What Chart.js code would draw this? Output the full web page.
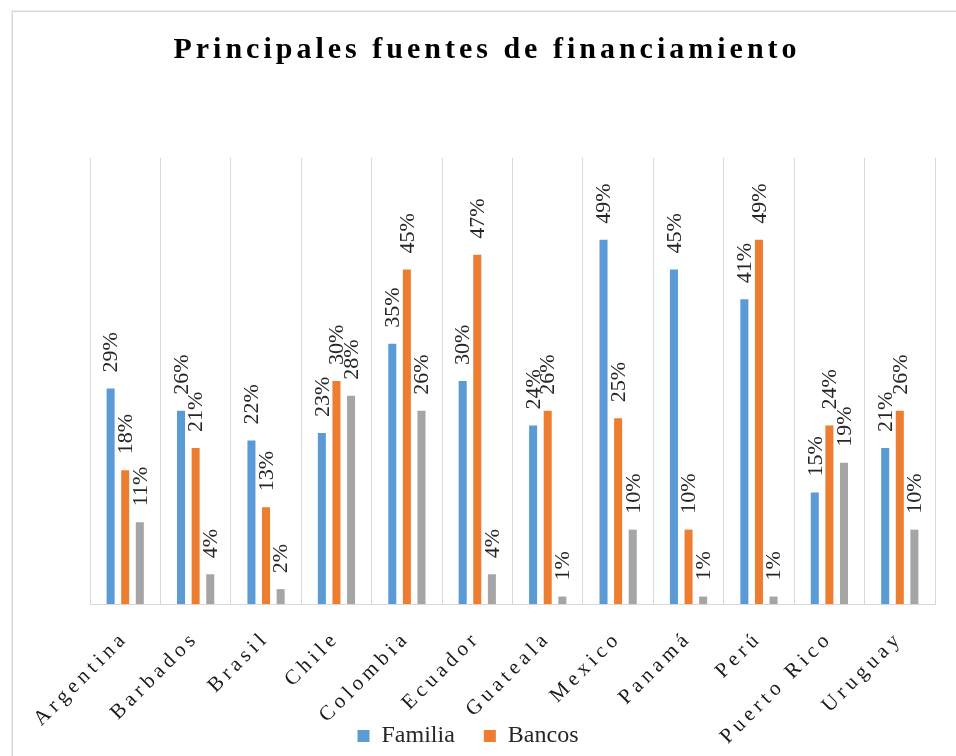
<!DOCTYPE html>
<html>
<head>
<meta charset="utf-8">
<script src="https://cdn.jsdelivr.net/npm/chart.js@4.4.0/dist/chart.umd.min.js"></script>
<style>
html,body{margin:0;padding:0;background:#fff;overflow:hidden}
#wrap{position:relative;width:956px;height:756px}
</style>
</head>
<body>
<div id="wrap"><canvas id="c" width="956" height="756"></canvas></div>
<script>
// ---- Data ----
const titleText = 'Principales fuentes de financiamiento';
const categories = ['Argentina','Barbados','Brasil','Chile','Colombia','Ecuador','Guateala','Mexico','Panamá','Perú','Puerto Rico','Uruguay'];
const seriesNames = ['Familia','Bancos','Otros'];
const familia = [29,26,22,23,35,30,24,49,45,41,15,21];
const bancos  = [18,21,13,30,45,47,26,25,10,49,24,26];
const otros   = [11, 4, 2,28,26, 4, 1,10, 1, 1,19,10];
const yMin = 0, yMax = 60;

const SERIF = '"Liberation Serif", "Times New Roman", serif';

// white background + light frame
const frame = {
  id: 'frame',
  beforeDraw(chart) {
    const ctx = chart.ctx;
    ctx.save();
    ctx.fillStyle = '#fff';
    ctx.fillRect(0, 0, chart.width, chart.height);
    ctx.strokeStyle = '#D9D9D9';
    ctx.lineWidth = 1.5;
    ctx.strokeRect(12.25, 11.25, 1000, 1000);
    ctx.restore();
  }
};

// letter spacing for title and category labels; no clipping of rotated labels
const spacing = {
  id: 'spacing',
  beforeLayout(chart) {
    const ctx = chart.ctx;
    const wrap = (obj, name, sp, dx) => {
      if (!obj || obj['__w_' + name]) return;
      const orig = obj[name];
      obj[name] = function (...args) {
        const prev = ctx.letterSpacing;
        ctx.save();
        if (dx) ctx.translate(dx, 0);
        ctx.letterSpacing = sp;
        try { return orig.apply(this, args); }
        finally { ctx.restore(); ctx.letterSpacing = prev || '0px'; }
      };
      obj['__w_' + name] = true;
    };
    wrap(chart.titleBlock, 'draw', '4px', 19);
    const x = chart.scales.x;
    wrap(x, 'update', '4.5px', 0);
    wrap(x, 'drawLabels', '4.5px', 0);
    x._computeLabelArea = function () {
      return { top: 0, left: 0, bottom: chart.height, right: chart.width };
    };
  }
};

// rotated value labels above each bar
const valueLabels = {
  id: 'valueLabels',
  afterDatasetsDraw(chart) {
    const ctx = chart.ctx;
    ctx.save();
    ctx.font = '22px ' + SERIF;
    ctx.fillStyle = '#262626';
    ctx.textAlign = 'left';
    ctx.textBaseline = 'middle';
    chart.data.datasets.forEach((ds, i) => {
      const meta = chart.getDatasetMeta(i);
      meta.data.forEach((bar, j) => {
        ctx.save();
        ctx.translate(bar.x + 1, bar.y - 16);
        ctx.rotate(-Math.PI / 2);
        ctx.fillText(ds.data[j] + '%', 0, 0);
        ctx.restore();
      });
    });
    ctx.restore();
  }
};

new Chart(document.getElementById('c').getContext('2d'), {
  type: 'bar',
  data: {
    labels: categories,
    datasets: [
      { label: seriesNames[0], data: familia, backgroundColor: '#5B9BD5' },
      { label: seriesNames[1], data: bancos,  backgroundColor: '#ED7D31' },
      { label: seriesNames[2], data: otros,   backgroundColor: '#A5A5A5' }
    ]
  },
  options: {
    responsive: false,
    animation: false,
    devicePixelRatio: 1,
    datasets: { bar: { categoryPercentage: 0.622, barPercentage: 0.55 } },
    layout: { padding: { left: 1, right: 21, top: 10, bottom: -2 } },
    plugins: {
      title: {
        display: true,
        text: titleText,
        color: '#000',
        font: { family: SERIF, size: 30, weight: 'bold', lineHeight: 1.2 },
        padding: { top: 22, bottom: 90 }
      },
      legend: {
        position: 'bottom',
        labels: {
          filter: (item) => item.datasetIndex < 2,
          boxWidth: 12,
          boxHeight: 12,
          padding: 29,
          color: '#262626',
          font: { family: SERIF, size: 24 }
        }
      },
      tooltip: { enabled: false }
    },
    scales: {
      x: {
        grid: { offset: true, color: '#D9D9D9', lineWidth: 1, drawTicks: false },
        border: { color: '#D9D9D9', width: 1 },
        ticks: {
          autoSkip: false, minRotation: 45, maxRotation: 45, padding: 22,
          color: '#1a1a1a', font: { family: SERIF, size: 21 }
        },
        afterFit: (s) => { s.height = 91; }
      },
      y: {
        min: yMin, max: yMax,
        grid: { display: false },
        border: { display: false },
        ticks: { display: false },
        afterFit: (s) => { s.width = 89; }
      }
    }
  },
  plugins: [frame, spacing, valueLabels]
});
</script>
</body>
</html>
